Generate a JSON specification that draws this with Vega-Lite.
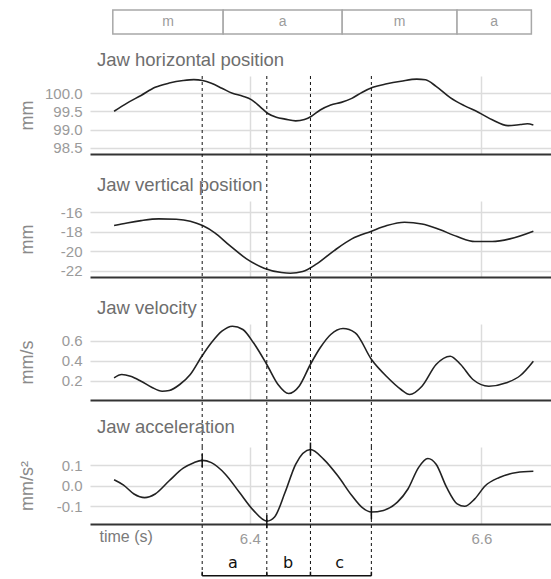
{
  "$schema": "https://vega.github.io/schema/vega-lite/v6.json",
  "padding": {"left": 18, "top": 9, "right": 0, "bottom": 0},
  "background": "white",
  "config": {
    "font": "Liberation Sans",
    "view": {"stroke": null},
    "axis": {"gridColor": "#dcdcdc", "gridWidth": 1.5, "ticks": false, "domain": false, "labelColor": "#9a9a9a", "labelFontSize": 15, "titleColor": "#8a8a8a", "titleFontSize": 18, "titleFontWeight": "normal", "labelPadding": 8, "labelOverlap": false, "tickCount": 10},
    "axisX": {"domain": true, "domainColor": "#333333", "domainWidth": 2},
    "title": {"anchor": "start", "frame": "group", "fontSize": 18.5, "fontWeight": "normal", "color": "#6e6e6e", "dx": 7, "offset": 6, "baseline": "alphabetic"}
  },
  "datasets": {
    "segments": [
      {"phase": "m", "start": 6.2817, "end": 6.377, "mid": 6.3294},
      {"phase": "a", "start": 6.377, "end": 6.4798, "mid": 6.4284},
      {"phase": "m", "start": 6.4798, "end": 6.579, "mid": 6.5294},
      {"phase": "a", "start": 6.579, "end": 6.6432, "mid": 6.6111}
    ],
    "events": [
      {"t": 6.3589, "acc": 0.123},
      {"t": 6.4147, "acc": -0.175},
      {"t": 6.4524, "acc": 0.178},
      {"t": 6.505, "acc": -0.131}
    ],
    "intervals": [
      {"label": "a", "start": 6.3589, "end": 6.4147, "mid": 6.3855},
      {"label": "b", "start": 6.4147, "end": 6.4524, "mid": 6.4330},
      {"label": "c", "start": 6.4524, "end": 6.505, "mid": 6.4775}
    ],
    "hpos": [{"t":6.2828,"v":99.505},{"t":6.294,"v":99.73},{"t":6.3061,"v":99.94},{"t":6.3183,"v":100.165},{"t":6.3304,"v":100.28},{"t":6.3425,"v":100.35},{"t":6.3517,"v":100.375},{"t":6.3592,"v":100.35},{"t":6.3668,"v":100.275},{"t":6.3759,"v":100.14},{"t":6.385,"v":100.0},{"t":6.394,"v":99.92},{"t":6.4016,"v":99.82},{"t":6.4092,"v":99.62},{"t":6.4153,"v":99.45},{"t":6.4229,"v":99.34},{"t":6.4305,"v":99.29},{"t":6.4396,"v":99.24},{"t":6.4472,"v":99.28},{"t":6.4533,"v":99.37},{"t":6.4608,"v":99.54},{"t":6.4699,"v":99.68},{"t":6.479,"v":99.75},{"t":6.4881,"v":99.86},{"t":6.4972,"v":100.03},{"t":6.5063,"v":100.165},{"t":6.5184,"v":100.26},{"t":6.5306,"v":100.33},{"t":6.5442,"v":100.39},{"t":6.5518,"v":100.37},{"t":6.5609,"v":100.19},{"t":6.5731,"v":99.88},{"t":6.5852,"v":99.66},{"t":6.5973,"v":99.48},{"t":6.6094,"v":99.27},{"t":6.623,"v":99.11},{"t":6.6337,"v":99.14},{"t":6.6398,"v":99.16},{"t":6.6449,"v":99.13}],
    "vpos": [{"t":6.2828,"v":-17.37},{"t":6.294,"v":-17.1},{"t":6.3061,"v":-16.86},{"t":6.3213,"v":-16.68},{"t":6.3365,"v":-16.72},{"t":6.3486,"v":-16.92},{"t":6.3592,"v":-17.37},{"t":6.3698,"v":-18.12},{"t":6.382,"v":-19.36},{"t":6.3972,"v":-20.79},{"t":6.4123,"v":-21.75},{"t":6.4274,"v":-22.2},{"t":6.435,"v":-22.27},{"t":6.4457,"v":-22.1},{"t":6.4578,"v":-21.31},{"t":6.4729,"v":-19.94},{"t":6.4881,"v":-18.74},{"t":6.5051,"v":-17.95},{"t":6.5184,"v":-17.37},{"t":6.5336,"v":-17.03},{"t":6.5487,"v":-17.2},{"t":6.5639,"v":-17.78},{"t":6.5791,"v":-18.5},{"t":6.5943,"v":-19.01},{"t":6.6094,"v":-19.01},{"t":6.6246,"v":-18.74},{"t":6.6449,"v":-17.95}],
    "vel": [{"t":6.2828,"v":0.227},{"t":6.2894,"v":0.26},{"t":6.297,"v":0.243},{"t":6.3061,"v":0.193},{"t":6.3152,"v":0.133},{"t":6.3243,"v":0.093},{"t":6.3304,"v":0.1},{"t":6.3395,"v":0.16},{"t":6.3486,"v":0.26},{"t":6.3586,"v":0.443},{"t":6.3668,"v":0.577},{"t":6.3759,"v":0.693},{"t":6.385,"v":0.743},{"t":6.394,"v":0.71},{"t":6.4032,"v":0.577},{"t":6.4147,"v":0.36},{"t":6.4244,"v":0.16},{"t":6.4335,"v":0.07},{"t":6.4426,"v":0.143},{"t":6.4523,"v":0.36},{"t":6.4608,"v":0.527},{"t":6.4699,"v":0.66},{"t":6.4805,"v":0.72},{"t":6.4911,"v":0.677},{"t":6.5051,"v":0.41},{"t":6.5184,"v":0.237},{"t":6.5306,"v":0.11},{"t":6.5381,"v":0.06},{"t":6.5487,"v":0.143},{"t":6.5609,"v":0.36},{"t":6.5731,"v":0.443},{"t":6.5821,"v":0.36},{"t":6.5927,"v":0.21},{"t":6.6064,"v":0.143},{"t":6.6216,"v":0.177},{"t":6.6337,"v":0.25},{"t":6.6449,"v":0.393}],
    "acc": [{"t":6.2828,"v":0.029},{"t":6.291,"v":0.003},{"t":6.3,"v":-0.04},{"t":6.3092,"v":-0.058},{"t":6.3183,"v":-0.04},{"t":6.3304,"v":0.024},{"t":6.3425,"v":0.085},{"t":6.3517,"v":0.112},{"t":6.3589,"v":0.123},{"t":6.3668,"v":0.112},{"t":6.3789,"v":0.056},{"t":6.391,"v":-0.032},{"t":6.4032,"v":-0.12},{"t":6.4147,"v":-0.172},{"t":6.4214,"v":-0.152},{"t":6.4305,"v":-0.032},{"t":6.4396,"v":0.104},{"t":6.4524,"v":0.176},{"t":6.4639,"v":0.128},{"t":6.476,"v":0.048},{"t":6.4881,"v":-0.048},{"t":6.4972,"v":-0.107},{"t":6.505,"v":-0.128},{"t":6.5154,"v":-0.12},{"t":6.5275,"v":-0.08},{"t":6.5366,"v":-0.016},{"t":6.5457,"v":0.088},{"t":6.5538,"v":0.132},{"t":6.5609,"v":0.104},{"t":6.57,"v":-0.008},{"t":6.5791,"v":-0.088},{"t":6.5856,"v":-0.1},{"t":6.5943,"v":-0.064},{"t":6.6034,"v":0.0},{"t":6.6155,"v":0.04},{"t":6.6306,"v":0.064},{"t":6.6449,"v":0.07}]
  },
  "spacing": 16,
  "vconcat": [
    {
      "width": 462,
      "height": 24,
      "data": {"name": "segments"},
      "layer": [
        {
          "mark": {"type": "rect", "fill": "white", "stroke": "#a8a8a8", "strokeWidth": 1.5},
          "encoding": {
            "x": {"field": "start", "type": "quantitative", "scale": {"domain": [6.262, 6.661], "nice": false, "zero": false}, "axis": null},
            "x2": {"field": "end"}
          }
        },
        {
          "mark": {"type": "text", "color": "#9c9c9c", "fontSize": 14},
          "encoding": {
            "x": {"field": "mid", "type": "quantitative"},
            "text": {"field": "phase", "type": "nominal"}
          }
        }
      ]
    },
    {
      "bounds": "flush",
      "spacing": 47,
      "vconcat": [
        {
          "width": 462,
          "height": 78,
          "title": {"text": "Jaw horizontal position"},
          "layer": [
            {
              "data": {"name": "hpos"},
              "mark": {"type": "line", "interpolate": "monotone", "color": "#222222", "strokeWidth": 1.6},
              "encoding": {
                "x": {"field": "t", "type": "quantitative", "scale": {"domain": [6.262, 6.661], "nice": false, "zero": false}, "axis": {"values": [6.4, 6.6], "labels": false, "title": null}},
                "y": {"field": "v", "type": "quantitative", "scale": {"domain": [98.33, 100.475], "nice": false, "zero": false}, "axis": {"values": [98.5, 99, 99.5, 100], "tickCount": 10, "format": ".1f", "title": "mm", "titleX": -58, "titleBaseline": "alphabetic"}}
              }
            },
            {
              "data": {"name": "events"},
              "mark": {"type": "rule", "color": "#111111", "strokeWidth": 1, "strokeDash": [3, 3]},
              "encoding": {"x": {"field": "t", "type": "quantitative"}, "y": {"datum": 100.475}, "y2": {"datum": 97.037}}
            }
          ]
        },
        {
          "width": 462,
          "height": 76,
          "title": {"text": "Jaw vertical position"},
          "layer": [
            {
              "data": {"name": "vpos"},
              "mark": {"type": "line", "interpolate": "monotone", "color": "#222222", "strokeWidth": 1.6},
              "encoding": {
                "x": {"field": "t", "type": "quantitative", "scale": {"domain": [6.262, 6.661], "nice": false, "zero": false}, "axis": {"values": [6.4, 6.6], "labels": false, "title": null}},
                "y": {"field": "v", "type": "quantitative", "scale": {"domain": [-22.66, -14.84], "nice": false, "zero": false}, "axis": {"values": [-22, -20, -18, -16], "tickCount": 10, "labelExpr": "replace(datum.label, '\u2212', '-')", "title": "mm", "titleX": -58, "titleBaseline": "alphabetic"}}
              }
            },
            {
              "data": {"name": "events"},
              "mark": {"type": "rule", "color": "#111111", "strokeWidth": 1, "strokeDash": [3, 3]},
              "encoding": {"x": {"field": "t", "type": "quantitative"}, "y": {"datum": -14.84}, "y2": {"datum": -27.496}}
            }
          ]
        },
        {
          "width": 462,
          "height": 76,
          "title": {"text": "Jaw velocity"},
          "layer": [
            {
              "data": {"name": "vel"},
              "mark": {"type": "line", "interpolate": "monotone", "color": "#222222", "strokeWidth": 1.6},
              "encoding": {
                "x": {"field": "t", "type": "quantitative", "scale": {"domain": [6.262, 6.661], "nice": false, "zero": false}, "axis": {"values": [6.4, 6.6], "labels": false, "title": null}},
                "y": {"field": "v", "type": "quantitative", "scale": {"domain": [0.005, 0.765], "nice": false, "zero": false}, "axis": {"values": [0.2, 0.4, 0.6], "tickCount": 10, "format": ".1f", "title": "mm/s", "titleX": -58, "titleBaseline": "alphabetic"}}
              }
            },
            {
              "data": {"name": "events"},
              "mark": {"type": "rule", "color": "#111111", "strokeWidth": 1, "strokeDash": [3, 3]},
              "encoding": {"x": {"field": "t", "type": "quantitative"}, "y": {"datum": 0.765}, "y2": {"datum": -0.465}}
            }
          ]
        },
        {
          "width": 462,
          "height": 77,
          "title": {"text": "Jaw acceleration"},
          "layer": [
            {
              "data": {"name": "acc"},
              "mark": {"type": "line", "interpolate": "monotone", "color": "#222222", "strokeWidth": 1.6},
              "encoding": {
                "x": {"field": "t", "type": "quantitative", "scale": {"domain": [6.262, 6.661], "nice": false, "zero": false}, "axis": {"values": [6.4, 6.6], "format": ".1f", "labelPadding": 7, "title": "time (s)", "titleX": 9, "titleY": 12, "titleAlign": "left", "titleBaseline": "middle", "titleFontSize": 16, "titleColor": "#7a7a7a"}},
                "y": {"field": "v", "type": "quantitative", "scale": {"domain": [-0.186, 0.188], "nice": false, "zero": false}, "axis": {"values": [-0.1, 0, 0.1], "tickCount": 10, "format": ".1f", "labelExpr": "replace(datum.label, '\u2212', '-')", "title": "mm/s²", "titleX": -58, "titleBaseline": "alphabetic"}}
              }
            },
            {
              "data": {"name": "events"},
              "mark": {"type": "rule", "color": "#111111", "strokeWidth": 1, "strokeDash": [3, 3]},
              "encoding": {"x": {"field": "t", "type": "quantitative"}, "y": {"datum": 0.188}, "y2": {"datum": -0.4371}}
            },
            {
              "data": {"name": "events"},
              "mark": {"type": "tick", "orient": "vertical", "size": 13, "thickness": 1.5, "color": "#111111", "opacity": 1},
              "encoding": {"x": {"field": "t", "type": "quantitative"}, "y": {"field": "acc", "type": "quantitative"}}
            },
            {
              "data": {"name": "events"},
              "mark": {"type": "rule", "color": "#111111", "strokeWidth": 1.5},
              "encoding": {"x": {"field": "t", "type": "quantitative"}, "y": {"datum": -0.4371}, "y2": {"datum": -0.4177}}
            },
            {
              "data": {"name": "intervals"},
              "mark": {"type": "rule", "color": "#111111", "strokeWidth": 1.5},
              "encoding": {"x": {"field": "start", "type": "quantitative"}, "x2": {"field": "end"}, "y": {"datum": -0.4371}}
            },
            {
              "data": {"name": "intervals"},
              "mark": {"type": "text", "color": "#111111", "fontSize": 16, "font": "DejaVu Sans", "baseline": "middle"},
              "encoding": {"x": {"field": "mid", "type": "quantitative"}, "y": {"datum": -0.3754}, "text": {"field": "label", "type": "nominal"}}
            }
          ]
        }
      ]
    }
  ]
}
